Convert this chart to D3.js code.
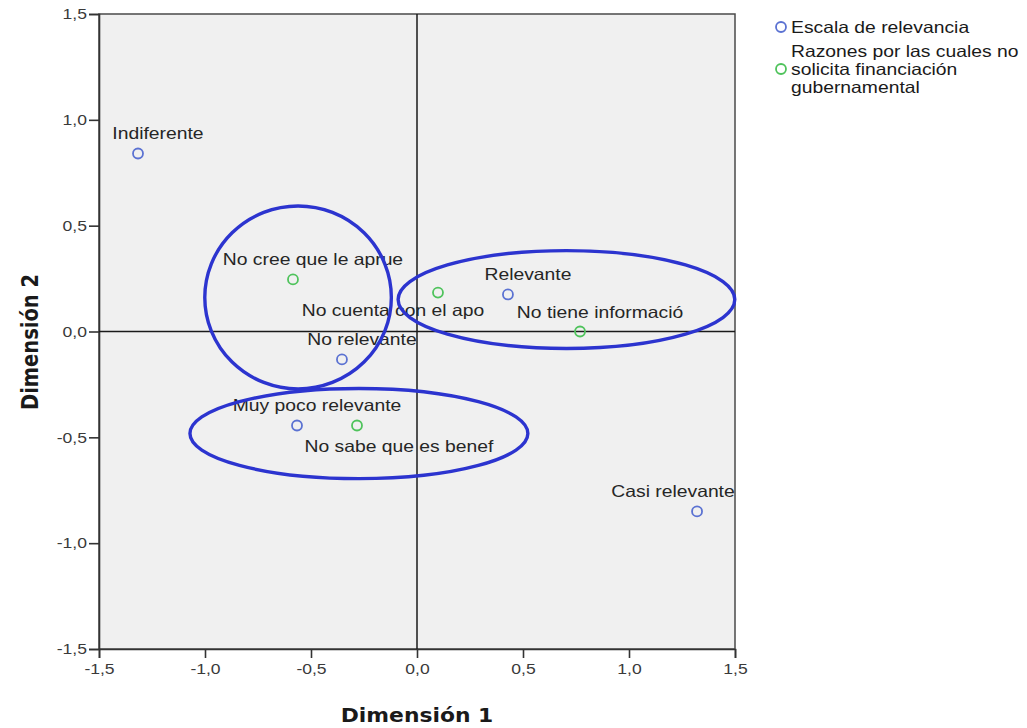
<!DOCTYPE html>
<html>
<head>
<meta charset="utf-8">
<script src="https://cdn.jsdelivr.net/npm/d3@7"></script>
<style>
  html, body { margin: 0; padding: 0; background: #ffffff; }
  svg { display: block; font-family: "Liberation Sans", Arial, sans-serif; }
</style>
</head>
<body>
<svg id="chart" width="1027" height="728"></svg>
<script>
// Category points (Dimensión 1, Dimensión 2)
const relevanciaLabels = ["Indiferente", "Relevante", "No relevante", "Muy poco relevante", "Casi relevante"];
const relevanciaDim1   = [-1.316, 0.429, -0.354, -0.566, 1.321];
const relevanciaDim2   = [0.841, 0.175, -0.132, -0.444, -0.850];

const razonesLabels = ["No cree que le aprue", "No cuenta con el apo", "No tiene informació", "No sabe que es benef"];
const razonesDim1   = [-0.585, 0.099, 0.769, -0.283];
const razonesDim2   = [0.246, 0.184, 0.000, -0.444];

// Grouping rings: centre and radii in dimension units
const ringCx = [-0.561, 0.705, -0.274];
const ringCy = [0.161, 0.151, -0.482];
const ringRx = [0.440, 0.794, 0.797];
const ringRy = [0.432, 0.231, 0.213];

const tickValues = [-1.5, -1.0, -0.5, 0.0, 0.5, 1.0, 1.5];
const legendSeries = ["Escala de relevancia", "Razones por las cuales no solicita financiación gubernamental"];
const legendLines  = [["Escala de relevancia"], ["Razones por las cuales no", "solicita financiación", "gubernamental"]];

const blue = "#5b72d2", green = "#4fc35c", ringColor = "#2c34cf";

const svg = d3.select("#chart");
const plotLeft = 99, plotRight = 735, plotTop = 14, plotBottom = 649;
const wide = 1.17; // horizontal widening of small text

const x = d3.scaleLinear().domain([-1.5, 1.5]).range([plotLeft, plotRight]);
const y = d3.scaleLinear().domain([-1.5, 1.5]).range([plotBottom, plotTop]);
const fmt = v => d3.format(".1f")(v).replace(".", ",").replace("−", "-");

function stretch(sel, k) {
  sel.each(function () {
    const w = this.getComputedTextLength();
    d3.select(this).attr("textLength", w * k).attr("lengthAdjust", "spacingAndGlyphs");
  });
}

// plot background
svg.append("rect")
  .attr("x", plotLeft).attr("y", plotTop)
  .attr("width", plotRight - plotLeft).attr("height", plotBottom - plotTop)
  .attr("fill", "#f0f0f0")
  .attr("stroke", "#4a4a4a").attr("stroke-width", 1.5);

// axes
const xAxis = svg.append("g").attr("transform", `translate(0,${plotBottom})`)
  .call(d3.axisBottom(x).tickValues(tickValues).tickFormat(fmt).tickSize(9).tickPadding(5));
const yAxis = svg.append("g").attr("transform", `translate(${plotLeft},0)`)
  .call(d3.axisLeft(y).tickValues(tickValues).tickFormat(fmt).tickSize(10).tickPadding(2));
[xAxis, yAxis].forEach(g => {
  g.select(".domain").attr("stroke", "#333").attr("stroke-width", 1.6);
  g.selectAll(".tick line").attr("stroke", "#333").attr("stroke-width", 1.6);
  g.selectAll(".tick text").attr("fill", "#3a3a3a").attr("font-size", 15)
    .attr("font-family", "'Liberation Sans', Arial, sans-serif");
  stretch(g.selectAll(".tick text"), wide);
});

// reference lines through the origin
svg.append("line").attr("x1", x(0)).attr("x2", x(0)).attr("y1", plotTop).attr("y2", plotBottom)
  .attr("stroke", "#1a1a1a").attr("stroke-width", 1.5);
svg.append("line").attr("x1", plotLeft).attr("x2", plotRight).attr("y1", y(0)).attr("y2", y(0))
  .attr("stroke", "#1a1a1a").attr("stroke-width", 1.5);

// axis titles
const xTitle = svg.append("text").attr("x", x(0)).attr("y", 722)
  .attr("text-anchor", "middle").attr("font-size", 19.5).attr("font-weight", "bold")
  .attr("font-family", "'DejaVu Sans', Verdana, sans-serif").attr("fill", "#1a1a1a")
  .text("Dimensión 1");
stretch(xTitle, 1.12);
svg.append("text")
  .attr("transform", `translate(38,342) scale(1.2,1) rotate(-90)`)
  .attr("text-anchor", "middle").attr("font-size", 19.5).attr("font-weight", "bold")
  .attr("font-family", "'DejaVu Sans', Verdana, sans-serif").attr("fill", "#1a1a1a")
  .text("Dimensión 2");

// label placement relative to each marker (pixels)
const labelShift = {
  "No cuenta con el apo": [-45, 23],
  "No sabe que es benef": [42, 27],
  "Casi relevante": [-24, -14]
};
const defaultShift = [20, -14];

const points = [
  ...relevanciaLabels.map((l, i) => ({ label: l, d1: relevanciaDim1[i], d2: relevanciaDim2[i], color: blue })),
  ...razonesLabels.map((l, i) => ({ label: l, d1: razonesDim1[i], d2: razonesDim2[i], color: green }))
];

const labels = svg.append("g").attr("font-size", 16.5).attr("fill", "#262626");
const labelText = labels.selectAll("text").data(points).join("text")
  .attr("x", d => x(d.d1) + (labelShift[d.label] || defaultShift)[0])
  .attr("y", d => y(d.d2) + (labelShift[d.label] || defaultShift)[1])
  .attr("text-anchor", "middle")
  .text(d => d.label);
stretch(labelText, wide);

svg.append("g").selectAll("circle").data(points).join("circle")
  .attr("cx", d => x(d.d1)).attr("cy", d => y(d.d2)).attr("r", 5)
  .attr("fill", "none").attr("stroke", d => d.color).attr("stroke-width", 1.8);

// grouping rings
svg.append("g").selectAll("ellipse").data(ringCx.map((c, i) => i)).join("ellipse")
  .attr("cx", i => x(ringCx[i])).attr("cy", i => y(ringCy[i]))
  .attr("rx", i => x(ringRx[i]) - x(0)).attr("ry", i => y(0) - y(ringRy[i]))
  .attr("fill", "none").attr("stroke", ringColor).attr("stroke-width", 3.4);

// legend
const legend = svg.append("g").attr("font-size", 16.5).attr("fill", "#1a1a1a");
const legendColors = [blue, green];
const legendRowY = [27, 69];
legendSeries.forEach((name, i) => {
  legend.append("circle").attr("cx", 781).attr("cy", legendRowY[i]).attr("r", 5)
    .attr("fill", "none").attr("stroke", legendColors[i]).attr("stroke-width", 1.8);
  const lines = legendLines[i];
  const firstBaseline = legendRowY[i] + 6 - (lines.length - 1) * 9;
  const t = legend.selectAll(null).data(lines).join("text")
    .attr("x", 791)
    .attr("y", (d, j) => firstBaseline + j * 18)
    .text(d => d);
  stretch(t, wide);
});
</script>
</body>
</html>
